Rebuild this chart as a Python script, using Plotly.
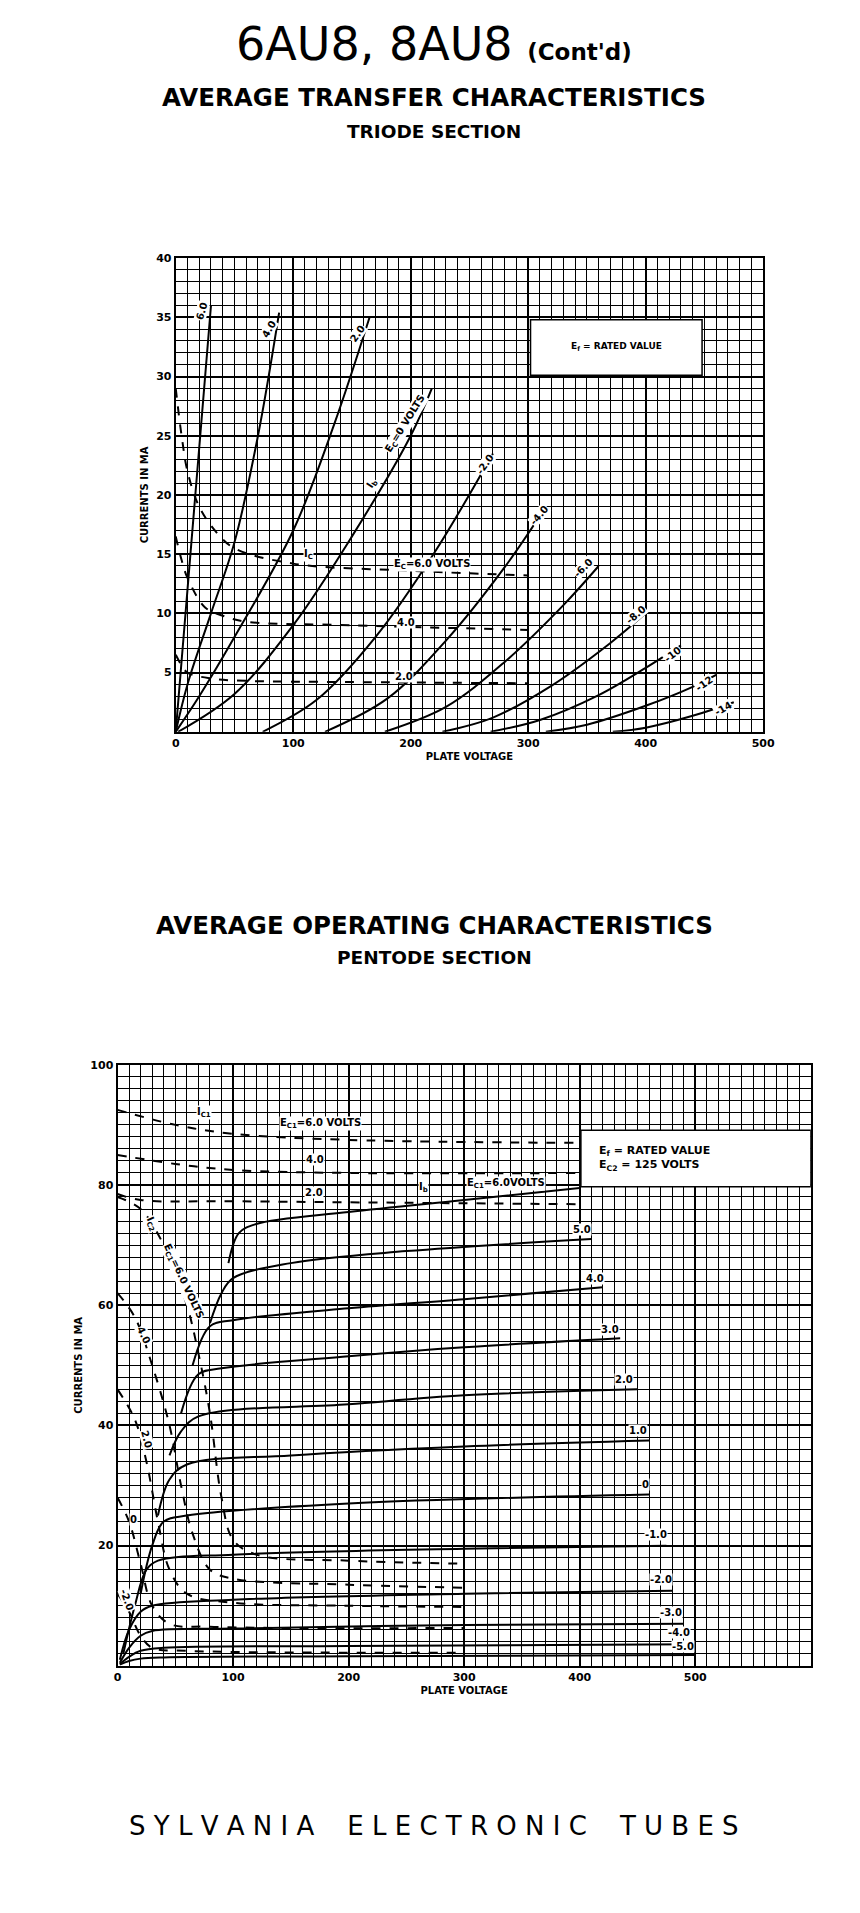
import plotly.graph_objects as go

_FONT = 'DejaVu Sans'
_INK = 'black'

# Triode section: plate current Ib (solid) per grid voltage Ec
triode_ec = ['6.0', '4.0', '2.0', '0', '-2.0', '-4.0', '-6.0', '-8.0', '-10', '-12', '-14']
triode_v = [
    [0, 5, 10, 20, 30],
    [0, 10, 30, 50, 70, 88],
    [0, 20, 50, 100, 135, 165],
    [2, 50, 100, 150, 200, 218],
    [74, 120, 170, 220, 270],
    [127, 180, 230, 280, 315],
    [178, 230, 280, 330, 360],
    [227, 270, 320, 370, 400],
    [268, 310, 360, 400, 430],
    [315, 350, 400, 440, 460],
    [372, 400, 440, 475],
]
triode_ib = [
    [0, 6, 12, 24, 36],
    [0, 4, 10, 16, 25, 35.4],
    [0, 3, 8, 17, 26, 35],
    [0, 3.2, 9, 16.5, 25, 29],
    [0, 2.7, 8, 15.1, 23.5],
    [0, 2.8, 7.7, 13.9, 19],
    [0, 2.1, 5.9, 10.7, 14],
    [0, 1.2, 3.9, 7.5, 10],
    [0, 1.0, 3.1, 5.4, 7.3],
    [0, 0.6, 2.2, 3.8, 4.8],
    [0, 0.35, 1.35, 2.5],
]
# Triode grid current Ic (dashed)
triode_ic_ec = ['6.0', '4.0', '2.0']
triode_ic_v = [
    [0, 5, 10, 20, 35, 50, 100, 200, 300],
    [0, 5, 10, 25, 40, 60, 150, 300],
    [0, 5, 10, 30, 60, 150, 300],
]
triode_ic = [
    [29, 25, 22, 19, 16.8, 15.5, 14.2, 13.6, 13.2],
    [16.5, 14.5, 13, 10.5, 9.8, 9.3, 9.0, 8.6],
    [6.5, 5.6, 5.0, 4.5, 4.3, 4.2, 4.1],
]

# Pentode section: plate current Ib (solid) per grid-1 voltage Ec1
pent_ec = ['6.0', '5.0', '4.0', '3.0', '2.0', '1.0', '0', '-1.0', '-2.0', '-3.0', '-4.0', '-5.0']
pent_v = [
    [96, 105, 120, 200, 300, 400],
    [80, 90, 100, 150, 250, 410],
    [65, 80, 100, 200, 300, 420],
    [55, 70, 90, 200, 300, 435],
    [45, 55, 70, 200, 300, 450],
    [35, 45, 60, 150, 300, 460],
    [20, 30, 40, 60, 200, 460],
    [5, 15, 25, 35, 100, 300, 475],
    [2, 10, 20, 30, 100, 300, 480],
    [2, 10, 20, 30, 100, 300, 490],
    [2, 10, 20, 40, 200, 500],
    [2, 10, 20, 40, 200, 500],
]
pent_ib = [
    [67, 72, 73.5, 75.5, 77.5, 79.5],
    [57, 62, 64.5, 67, 69, 71],
    [50, 56.5, 57.5, 59.5, 61, 63],
    [42, 48.5, 49.5, 51.5, 53, 54.5],
    [35, 39, 41.5, 43.5, 45, 46],
    [25, 31, 33.5, 35, 36.5, 37.5],
    [12, 20, 24, 25, 27, 28.5],
    [2, 10, 16, 17.5, 18.5, 19.5, 20],
    [1, 6, 9, 10, 11, 12, 12.5],
    [0.5, 3, 5, 5.8, 6.2, 6.8, 7],
    [0.3, 1.5, 2.5, 3, 3.3, 3.6],
    [0.2, 0.8, 1.2, 1.4, 1.6, 1.8],
]
# Pentode screen current Ic2 (dashed)
pent_ic2_ec = ['6.0', '4.0', '2.0', '0', '-2.0']
pent_ic2_v = [
    [0, 20, 40, 60, 70, 80, 90, 100, 120, 200, 300],
    [0, 15, 30, 45, 55, 65, 80, 100, 200, 300],
    [0, 15, 25, 35, 45, 60, 100, 200, 300],
    [0, 10, 20, 30, 45, 80, 300],
    [0, 10, 20, 30, 60, 300],
]
pent_ic2 = [
    [78, 76, 70, 60, 52, 42, 28, 21, 18.5, 17.5, 17],
    [62, 58, 50, 40, 30, 22, 16, 14.5, 13.5, 13],
    [46, 41, 34, 24, 16, 12, 10.5, 10, 9.8],
    [28, 24, 17, 10, 7, 6.5, 6.3],
    [12, 9, 5, 3, 2.5, 2.2],
]
# Pentode grid-1 current Ic1 (dashed)
pent_ic1_v = [
    [0, 50, 100, 200, 400],
    [0, 50, 100, 200, 400],
    [0, 20, 100, 400],
]
pent_ic1 = [
    [92.5, 90, 88.5, 87.5, 87],
    [85, 83.5, 82.5, 82, 82],
    [78.5, 77.5, 77.3, 76.8],
]


def _add_curves(fig, xs, ys, axis, dash='solid', width=2):
    """Adds one line trace per curve on the given axis pair"""
    for x, y in zip(xs, ys):
        fig.add_trace(go.Scatter(x=x, y=y, mode='lines', xaxis='x' + axis, yaxis='y' + axis,
                                 line=dict(color=_INK, width=width, dash=dash, shape='spline'),
                                 hoverinfo='none'))


def _label(fig, x, y, text, axis, angle=0, size=10):
    fig.add_annotation(x=x, y=y, xref='x' + axis, yref='y' + axis, text='<b>' + text + '</b>',
                       showarrow=False, textangle=angle, font=dict(size=size, family=_FONT, color=_INK),
                       bgcolor='white', borderpad=0)


fig = go.Figure()
_add_curves(fig, triode_v, triode_ib, '')
_add_curves(fig, triode_ic_v, triode_ic, '', dash='dash')
_add_curves(fig, pent_v, pent_ib, '2')
_add_curves(fig, pent_ic2_v, pent_ic2, '2', dash='dash')
_add_curves(fig, pent_ic1_v, pent_ic1, '2', dash='dash')

# Curve labels, triode
for x, y, t, a in [(22, 35.5, '6.0', -75), (79, 34, '4.0', -60), (155, 33.6, '2.0', -55),
                   (196, 26, 'E<sub>C</sub>=0 VOLTS', -58), (167, 21, 'I<sub>b</sub>', -58),
                   (263, 22.6, '-2.0', -55), (309, 18.3, '-4.0', -50), (347, 13.9, '-6.0', -45),
                   (392, 9.9, '-8.0', -40), (423, 6.5, '-10', -38), (450, 4.1, '-12', -35),
                   (466, 2, '-14', -30)]:
    _label(fig, x, y, t, '', a)
for x, y, t in [(113, 15, 'I<sub>C</sub>'), (218, 14.1, 'E<sub>C</sub>=6.0 VOLTS'),
                (196, 9.2, '4.0'), (194, 4.7, '2.0')]:
    _label(fig, x, y, t, '')
# Curve labels, pentode
for x, y, t in [(75, 92, 'I<sub>C1</sub>'), (176, 90.3, 'E<sub>C1</sub>=6.0 VOLTS'), (171, 84.2, '4.0'),
                (170, 78.8, '2.0'), (265, 79.5, 'I<sub>b</sub>'), (336, 80.3, 'E<sub>C1</sub>=6.0VOLTS'),
                (402, 72.6, '5.0'), (413, 64.4, '4.0'), (426, 55.9, '3.0'), (438, 47.7, '2.0'),
                (450, 39.2, '1.0'), (457, 30.2, '0'), (466, 21.9, '-1.0'), (470, 14.4, '-2.0'),
                (479, 8.9, '-3.0'), (486, 5.6, '-4.0'), (489, 3.2, '-5.0')]:
    _label(fig, x, y, t, '2')
for x, y, t, a in [(30, 73.5, 'I<sub>C2</sub>', 65), (57, 64, 'E<sub>C1</sub>=6.0 VOLTS', 65),
                   (23, 55, '4.0', 65), (25, 37.6, '2.0', 75), (14, 24.3, '0', 0), (8, 11, '-2.0', 70)]:
    _label(fig, x, y, t, '2', a)

# Note boxes
fig.add_shape(type='rect', x0=302, x1=448, y0=30.1, y1=34.8, xref='x', yref='y',
              fillcolor='white', line=dict(color=_INK, width=1.5))
_label(fig, 375, 32.5, 'E<sub>f</sub> = RATED VALUE', '', size=9)
fig.add_shape(type='rect', x0=401, x1=600, y0=79.7, y1=89.1, xref='x2', yref='y2',
              fillcolor='white', line=dict(color=_INK, width=1.5))
fig.add_annotation(x=415, y=84.4, xref='x2', yref='y2', xanchor='left', showarrow=False, align='left',
                   text='<b>E<sub>f</sub> = RATED VALUE<br>E<sub>C2</sub> = 125 VOLTS</b>',
                   font=dict(size=11, family=_FONT, color=_INK))

axis_common = dict(showline=True, linecolor=_INK, linewidth=2, mirror=True, gridcolor=_INK,
                   gridwidth=1.6, zeroline=False, ticks='', layer='below traces',
                   tickfont=dict(size=11, family=_FONT, color=_INK),
                   minor=dict(showgrid=True, gridcolor=_INK, gridwidth=0.8))
title_font = dict(size=10, family=_FONT, color=_INK)
fig.update_layout(
    width=860, height=1913, paper_bgcolor='white', plot_bgcolor='white', showlegend=False,
    margin=dict(l=0, r=0, t=0, b=0),
    xaxis=dict(axis_common, domain=[0.194, 0.890], range=[0, 500], tickvals=list(range(0, 501, 100)),
               ticktext=['<b>%d</b>' % v for v in range(0, 501, 100)], minor=dict(axis_common['minor'], dtick=10),
               title=dict(text='<b>PLATE VOLTAGE</b>', font=title_font, standoff=4), anchor='y'),
    yaxis=dict(axis_common, domain=[0.6236, 0.872], range=[0, 40], tickvals=list(range(5, 41, 5)),
               ticktext=['<b>%d</b>' % v for v in range(5, 41, 5)], minor=dict(axis_common['minor'], dtick=1),
               title=dict(text='<b>CURRENTS IN MA</b>', font=title_font, standoff=6), anchor='x'),
    xaxis2=dict(axis_common, domain=[0.125, 0.9465], range=[0, 600], tickvals=list(range(0, 501, 100)),
                ticktext=['<b>%d</b>' % v for v in range(0, 501, 100)], minor=dict(axis_common['minor'], dtick=10),
                title=dict(text='<b>PLATE VOLTAGE</b>', font=title_font, standoff=4), anchor='y2'),
    yaxis2=dict(axis_common, domain=[0.1338, 0.449], range=[0, 100], tickvals=list(range(20, 101, 20)),
                ticktext=['<b>%d</b>' % v for v in range(20, 101, 20)], minor=dict(axis_common['minor'], dtick=2),
                title=dict(text='<b>CURRENTS IN MA</b>', font=title_font, standoff=6), anchor='x2'),
)

# Page headings
for y, text, size in [(30, '6AU8, 8AU8 <span style="font-size:23px"><b>(Cont\'d)</b></span>', 46),
                      (84, '<b>AVERAGE TRANSFER CHARACTERISTICS</b>', 24.5),
                      (118, '<b>TRIODE SECTION</b>', 18.5),
                      (914, '<b>AVERAGE OPERATING CHARACTERISTICS</b>', 24.5),
                      (946, '<b>PENTODE SECTION</b>', 18.5),
                      (1818, 'S Y L V A N I A    E L E C T R O N I C    T U B E S', 26)]:
    fig.add_annotation(x=0.5, y=1 - y / 1913, xref='paper', yref='paper', yanchor='middle', text=text,
                       showarrow=False, font=dict(size=size, family=_FONT, color=_INK))

fig.write_html('out.html')
